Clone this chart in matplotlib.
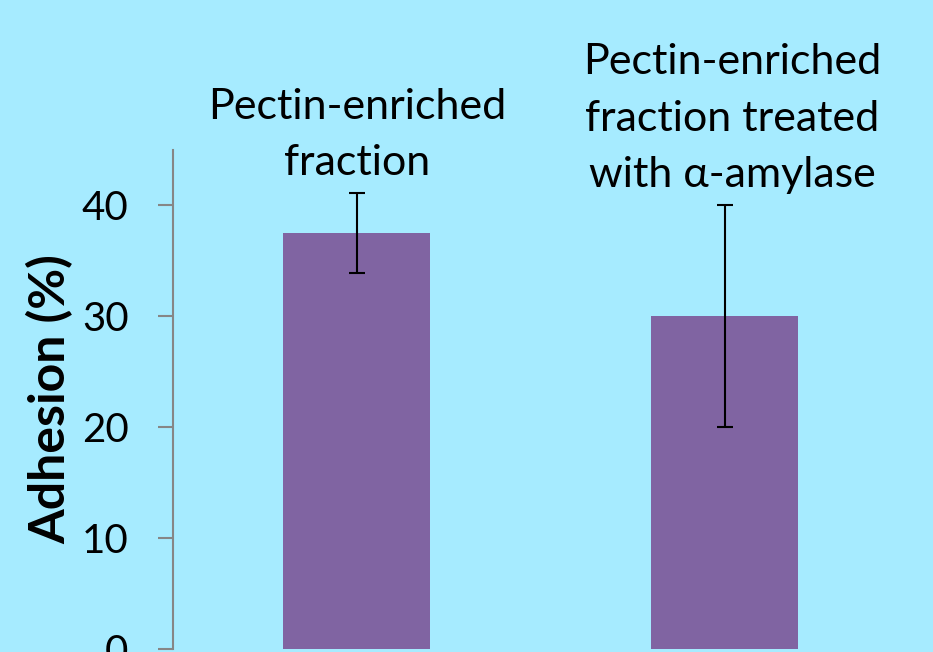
import numpy as np
import matplotlib.pyplot as plt

# Data
categories = ['Pectin-enriched\nfraction', 'Pectin-enriched\nfraction treated\nwith α-amylase']
adhesion = [37.5, 30.0]
errors = [3.6, 10.0]
yticks = [0, 10, 20, 30, 40]

bg = '#A6EBFF'
bar_color = '#8064A2'
axis_gray = '#868686'

plt.rcParams['font.family'] = ['Lato', 'DejaVu Sans']

fig = plt.figure(figsize=(9.33, 6.52), dpi=100, facecolor=bg)
ax = fig.add_axes([0.1854, 0.0046, 0.7886, 0.7654])
ax.set_facecolor(bg)

x = np.arange(len(categories))
ax.bar(x, adhesion, width=0.4, color=bar_color, yerr=errors,
       error_kw=dict(ecolor='black', elinewidth=1.5, capsize=6, capthick=1.5))

# Category labels above the bars
for xi, v, e, lab in zip(x, adhesion, errors, categories):
    ax.text(xi + 0.02 * xi, v + e + 1.0, lab, ha='center', va='bottom',
            fontsize=31, linespacing=1.6, clip_on=False)

ax.set_xlim(-0.5, 1.5)
ax.set_ylim(0, 45)
ax.set_yticks(yticks)
ax.set_xticks([])
ax.tick_params(axis='y', length=11, width=1.5, color=axis_gray, labelsize=29, pad=21)
for s in ['top', 'right', 'bottom']:
    ax.spines[s].set_visible(False)
ax.spines['left'].set_color(axis_gray)
ax.spines['left'].set_linewidth(1.5)
ax.set_ylabel('Adhesion (%)', fontsize=36, fontweight='bold', labelpad=6)

fig.savefig('out.png', dpi=100, facecolor=bg)
